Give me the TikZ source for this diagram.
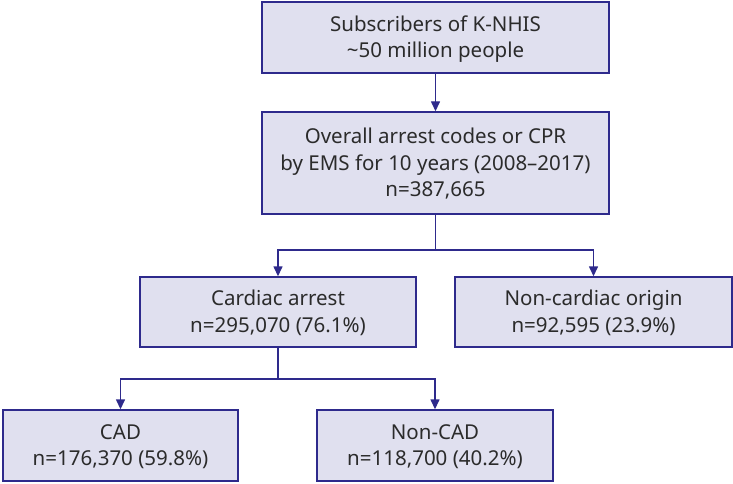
\documentclass[tikz,border=0pt]{standalone}
\usepackage{fontspec}
\setmainfont{Noto Sans}
\usetikzlibrary{arrows.meta}
\definecolor{boxfill}{HTML}{E0E0EF}
\definecolor{boxline}{HTML}{2E2A8C}
\definecolor{txt}{HTML}{2B2B2B}
\newcommand\topstrut{\rule{0pt}{20pt}}
\newcommand\botstrut{\rule[-6pt]{0pt}{6pt}}
\tikzset{
  flowbox/.style={draw=boxline, fill=boxfill, line width=1.4pt, align=center,
    text=txt, inner sep=0pt, font=\fontsize{20.5}{26.5}\selectfont},
  conn/.style={draw=boxline, line width=1.4pt},
  arr/.style={conn, -{Triangle[length=10pt,width=9pt]}}
}
\begin{document}
\begin{tikzpicture}[x=1pt,y=-1pt]
\useasboundingbox (0,0) rectangle (733,484);
\node[flowbox, minimum width=347pt, minimum height=71pt] (top) at (435.5,37.5)
  {\topstrut Subscribers of K-NHIS\\\textasciitilde50 million people\botstrut};
\node[flowbox, minimum width=347pt, minimum height=102pt] (mid) at (435.5,163)
  {\topstrut Overall arrest codes or CPR\\by EMS for 10 years (2008--2017)\\n=387,665\botstrut};
\node[flowbox, minimum width=276pt, minimum height=70pt] (card) at (278,312)
  {\topstrut Cardiac arrest\\n=295,070 (76.1\%)\botstrut};
\node[flowbox, minimum width=277pt, minimum height=70pt] (noncard) at (593.5,312)
  {\topstrut Non-cardiac origin\\n=92,595 (23.9\%)\botstrut};
\node[flowbox, minimum width=235pt, minimum height=71pt] (cad) at (120.5,445.5)
  {\topstrut CAD\\n=176,370 (59.8\%)\botstrut};
\node[flowbox, minimum width=236pt, minimum height=71pt] (noncad) at (435,445.5)
  {\topstrut Non-CAD\\n=118,700 (40.2\%)\botstrut};
\coordinate (j1) at (435.5,250);
\coordinate (j2) at (278,379);
\draw[arr] (top) -- (mid);
\draw[conn] (mid.south) -- (j1);
\draw[arr] (j1) -| (card.north);
\draw[arr] (j1) -| (noncard.north);
\draw[conn] (card.south) -- (j2);
\draw[arr] (j2) -| (cad.north);
\draw[arr] (j2) -| (noncad.north);
\end{tikzpicture}
\end{document}
